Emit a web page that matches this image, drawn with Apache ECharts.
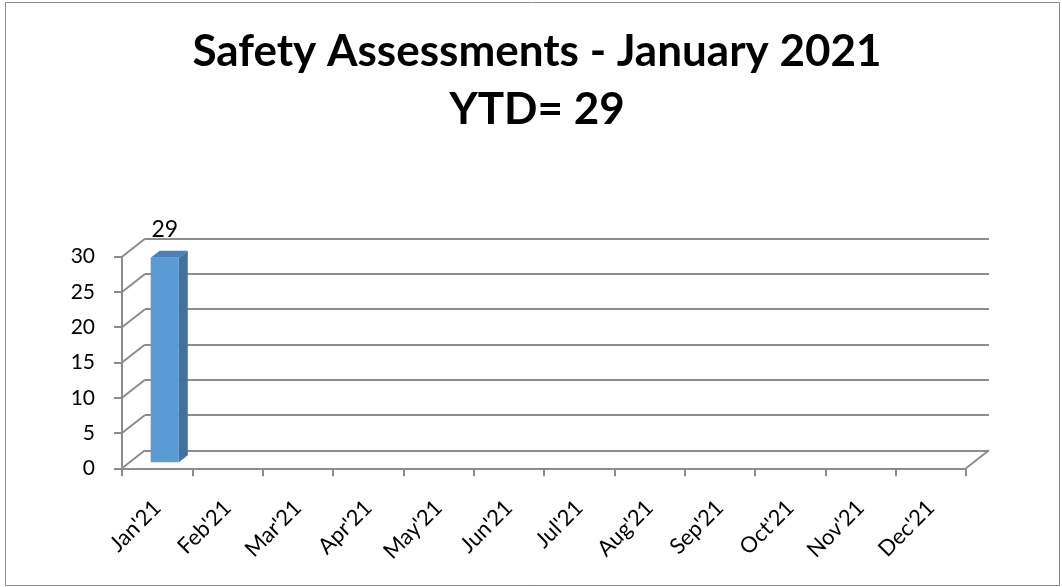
<!DOCTYPE html>
<html>
<head>
<meta charset="utf-8">
<title>Safety Assessments - January 2021</title>
<script src="https://cdn.jsdelivr.net/npm/echarts@6/dist/echarts.min.js"></script>
<style>
html, body { margin: 0; padding: 0; background: #fff; }
#main { width: 1062px; height: 587px; }
</style>
</head>
<body>
<div id="main"></div>
<script>
var months = ["Jan'21", "Feb'21", "Mar'21", "Apr'21", "May'21", "Jun'21",
              "Jul'21", "Aug'21", "Sep'21", "Oct'21", "Nov'21", "Dec'21"];
var assessments = [29, null, null, null, null, null, null, null, null, null, null, null];
var yTicks = [0, 5, 10, 15, 20, 25, 30];
var titleText = 'Safety Assessments - January 2021';
var ytdText = 'YTD= 29';

// fake 3d: depth of the floor in px
var DX = 23, DY = -18;
var front = {left: 122, right: 96, top: 256.7, bottom: 118.7};
var back = {left: front.left + DX, right: front.right - DX, top: front.top + DY, bottom: front.bottom - DY};
var lineGray = '#8c8c8c';
var font = 'Lato, "Open Sans", sans-serif';

var myChart = echarts.init(document.getElementById('main'));

var option = {
  backgroundColor: '#fff',
  animation: false,
  graphic: [
    {type: 'rect', shape: {x: 5.5, y: 2.5, width: 1054, height: 583}, style: {fill: 'none', stroke: '#8c8c8c', lineWidth: 1}, silent: true},
    {type: 'text', x: 537, y: 52, style: {text: titleText, textAlign: 'center', textVerticalAlign: 'middle', font: 'bold 44px ' + font, fill: '#000'}},
    {type: 'text', x: 537, y: 110, style: {text: ytdText, textAlign: 'center', textVerticalAlign: 'middle', font: 'bold 44px ' + font, fill: '#000'}}
  ],
  grid: [
    {left: front.left, right: front.right, top: front.top, bottom: front.bottom},
    {left: back.left, right: back.right, top: back.top, bottom: back.bottom}
  ],
  xAxis: [
    {
      gridIndex: 0, type: 'category', data: months, boundaryGap: true,
      axisLine: {lineStyle: {color: lineGray, width: 2}},
      axisTick: {show: true, length: 8, lineStyle: {color: lineGray, width: 2}},
      axisLabel: {rotate: 45, margin: 36, fontSize: 22, fontFamily: font, color: '#000', interval: 0},
      splitLine: {show: false}
    },
    {gridIndex: 1, type: 'category', data: months, show: false}
  ],
  yAxis: [
    {
      gridIndex: 0, type: 'value', min: 0, max: 30, interval: 5,
      axisLine: {show: true, lineStyle: {color: lineGray, width: 2}},
      axisTick: {show: true, length: 8, lineStyle: {color: lineGray, width: 2}},
      axisLabel: {margin: 27, fontSize: 21, fontFamily: font, color: '#000'},
      splitLine: {show: false}
    },
    {
      gridIndex: 1, type: 'value', min: 0, max: 30, interval: 5,
      axisLine: {show: false}, axisTick: {show: false}, axisLabel: {show: false},
      splitLine: {show: true, lineStyle: {color: lineGray, width: 2}}
    }
  ],
  series: [
    {
      // diagonal lines joining the front axis to the back wall
      type: 'custom', xAxisIndex: 0, yAxisIndex: 0, silent: true,
      data: yTicks.map(function (v) { return [0, v]; }),
      renderItem: function (params, api) {
        var cs = params.coordSys;
        var y = api.coord([0, api.value(1)])[1];
        var st = {stroke: lineGray, lineWidth: 2};
        var kids = [{type: 'line', shape: {x1: cs.x, y1: y, x2: cs.x + DX, y2: y + DY}, style: st}];
        if (api.value(1) === 0) {
          kids.push({type: 'line', shape: {x1: cs.x + cs.width, y1: y, x2: cs.x + cs.width + DX, y2: y + DY}, style: st});
        }
        return {type: 'group', children: kids};
      }
    },
    {
      type: 'custom', xAxisIndex: 0, yAxisIndex: 0, z: 5,
      data: assessments.map(function (v, i) { return [i, v]; }),
      renderItem: function (params, api) {
        var val = api.value(1);
        if (val == null || isNaN(val)) return null;
        var idx = api.value(0);
        var band = api.size([1, 0])[0];
        var base = api.coord([idx, 0]);
        var top = api.coord([idx, val]);
        var d0 = 0.33, d1 = 0.72;
        var ox = d0 * DX, oy = d0 * DY;
        var ddx = (d1 - d0) * DX, ddy = (d1 - d0) * DY;
        var xl = base[0] - 0.2 * band + ox, xr = base[0] + 0.2 * band + ox;
        var yt = top[1] + oy, yb = base[1] + oy;
        return {
          type: 'group',
          children: [
            {type: 'polygon', shape: {points: [[xr, yt], [xr + ddx, yt + ddy], [xr + ddx, yb + ddy], [xr, yb]]}, style: {fill: '#41719c'}},
            {type: 'polygon', shape: {points: [[xl, yt], [xr, yt], [xr + ddx, yt + ddy], [xl + ddx, yt + ddy]]}, style: {fill: '#4a7fb8'}},
            {type: 'rect', shape: {x: xl, y: yt, width: xr - xl, height: yb - yt}, style: {fill: '#5b9bd5'}},
            {type: 'text', x: (xl + xr) / 2, y: yt + ddy - 10,
             style: {text: String(val), textAlign: 'center', textVerticalAlign: 'bottom', font: '23px ' + font, fill: '#000'}}
          ]
        };
      }
    }
  ]
};

myChart.setOption(option);
</script>
</body>
</html>
